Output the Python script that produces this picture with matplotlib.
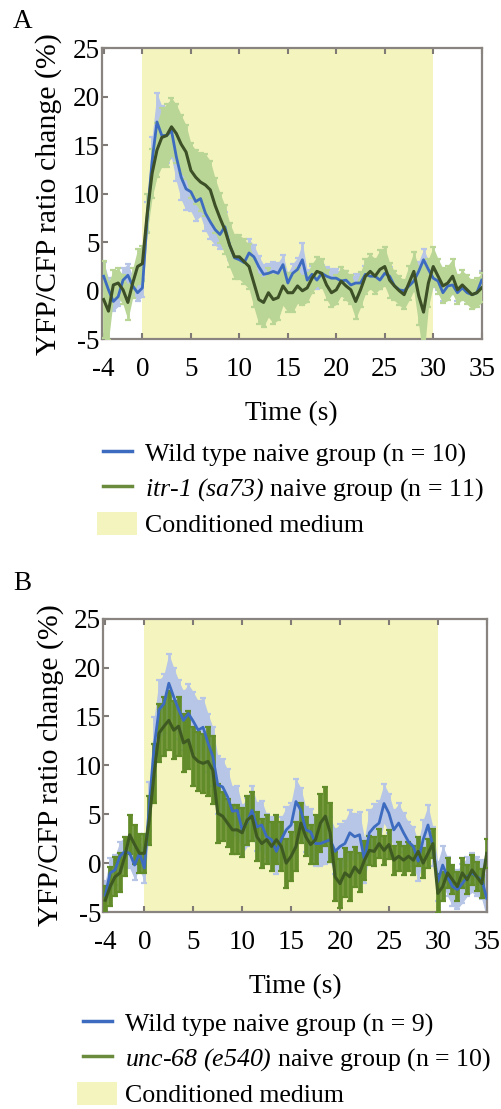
import numpy as np
import matplotlib
matplotlib.use('Agg')
import matplotlib.pyplot as plt
from matplotlib.lines import Line2D
from matplotlib.patches import Patch
from matplotlib.legend_handler import HandlerLine2D

plt.rcParams['font.family'] = ['Liberation Serif', 'DejaVu Serif']
plt.rcParams['axes.unicode_minus'] = False
# math text is only used for the italic gene names
plt.rcParams['mathtext.fontset'] = 'custom'
plt.rcParams['mathtext.rm'] = 'Liberation Serif:italic'
plt.rcParams['mathtext.it'] = 'Liberation Serif:italic'

# time axis, 0.5 s steps from -4 to 35 s
t = np.arange(-4, 35.01, 0.5)

# panel A: wild type vs itr-1 (sa73)
wt_a = [1.5, 0.1, -1.1, -0.6, 1.1, 1.6, 0.5, -0.2, 0.3, 7.6,
        13.4, 17.4, 16.0, 16.0, 16.5, 13.8, 11.7, 10.5, 10.2, 9.2,
        9.5, 8.0, 7.1, 6.3, 5.8, 6.6, 4.7, 3.4, 3.2, 2.9,
        3.9, 3.5, 2.5, 1.7, 1.8, 2.0, 1.8, 2.7, 0.8, 1.8,
        2.2, 3.2, 1.1, 1.7, 1.1, 1.8, 1.5, 1.3, 1.3, 1.0,
        1.1, 0.6, 0.8, 0.8, 1.7, 1.5, 1.5, 1.1, 1.8, 1.5,
        0.5, 0.1, 0.0, 0.5, 1.0, 2.0, 3.2, 2.2, 1.3, 1.0,
        -0.2, 0.5, 0.6, -0.2, 0.3, -0.2, -0.4, -0.2, 1.1]
wt_a_err = [1.5, 1.2, 1.0, 1.0, 1.2, 1.2, 1.0, 0.9, 0.9, 1.5,
            2.5, 3.0, 3.0, 2.8, 2.8, 2.5, 2.3, 2.2, 2.0, 2.0,
            1.8, 1.8, 1.8, 1.6, 1.5, 1.5, 1.5, 1.3, 1.3, 1.2,
            1.4, 1.2, 1.1, 1.0, 1.0, 1.0, 1.1, 1.0, 1.0, 1.0,
            1.2, 1.7, 1.0, 0.9, 0.9, 0.9, 0.9, 0.9, 0.9, 0.9,
            0.9, 0.9, 0.9, 0.9, 0.9, 0.9, 0.9, 0.9, 1.0, 1.0,
            0.9, 0.9, 0.9, 0.9, 1.0, 1.0, 1.1, 1.0, 0.9, 0.9,
            0.9, 0.9, 0.9, 0.9, 0.9, 0.9, 0.9, 0.9, 0.9]
itr = [-0.9, -2.1, 0.6, 0.8, 0.1, -1.2, 0.8, 2.5, 2.8, 8.0,
       12.1, 14.5, 15.8, 16.0, 16.9, 16.2, 15.1, 14.3, 12.4, 11.7,
       11.2, 10.9, 10.4, 8.8, 7.5, 6.3, 4.7, 3.5, 3.5, 3.0,
       2.5, 0.8, -0.9, -1.2, -0.2, -0.9, -0.7, 0.5, -0.2, -0.2,
       0.5, 0.0, 0.3, 1.3, 2.0, 1.8, 0.6, -0.2, 0.1, 1.0,
       0.5, 0.1, -1.1, 0.1, 1.5, 2.0, 1.5, 2.2, 2.5, 1.1,
       0.5, 0.0, -0.4, 0.8, 2.0, -0.5, -2.2, 0.8, 2.5, 1.5,
       0.5, 0.8, 1.5, 0.1, 0.6, 0.1, -0.4, -0.2, 0.3]
itr_err = [4.0, 3.0, 1.5, 1.5, 1.5, 1.8, 1.5, 1.8, 1.8, 2.0,
           2.5, 2.8, 3.0, 3.2, 3.0, 3.0, 3.0, 2.8, 2.8, 2.8,
           3.0, 3.2, 3.0, 2.8, 2.6, 2.5, 2.3, 2.3, 2.3, 2.3,
           2.3, 2.5, 2.5, 2.5, 2.5, 2.5, 2.3, 2.0, 2.0, 2.0,
           1.8, 1.5, 1.5, 1.5, 1.5, 1.5, 1.5, 1.5, 1.5, 1.5,
           1.5, 1.5, 1.8, 1.8, 1.8, 1.8, 1.8, 2.0, 2.0, 1.8,
           1.5, 1.5, 1.5, 1.8, 2.0, 3.0, 5.0, 2.5, 2.0, 1.8,
           1.8, 1.8, 1.8, 1.5, 1.5, 1.5, 1.5, 1.5, 1.5]

# panel B: wild type vs unc-68 (e540)
wt_b = [-3.3, -1.0, -0.7, 0.7, 1.2, 1.0, -0.2, 1.0, -0.5, 5.8,
        11.9, 15.7, 16.3, 18.4, 17.0, 15.7, 14.6, 15.3, 14.5, 13.6,
        13.9, 12.3, 10.9, 8.0, 7.8, 6.8, 5.3, 5.4, 3.4, 4.2,
        5.4, 3.7, 3.9, 2.7, 2.4, 1.2, 2.4, 3.4, 3.9, 6.3,
        5.4, 3.4, 3.2, 2.0, 2.0, 2.2, 2.4, 1.2, 1.7, 2.0,
        3.1, 2.7, 2.9, 0.3, 3.1, 3.7, 4.1, 6.1, 5.1, 3.4,
        4.1, 3.1, 2.2, 1.7, 0.2, 2.4, 3.9, 1.7, -1.9, -0.2,
        -1.4, -2.4, -2.7, -2.1, -1.4, -1.0, -1.4, -1.7, -3.6]
wt_b_err = [1.5, 1.5, 1.5, 1.5, 1.5, 1.5, 1.5, 1.5, 1.5, 2.5,
            3.0, 3.0, 3.0, 3.0, 3.0, 3.0, 3.0, 3.0, 3.0, 3.0,
            3.0, 3.0, 3.0, 3.0, 2.8, 2.8, 2.5, 2.5, 2.5, 2.5,
            2.5, 2.5, 2.5, 2.3, 2.3, 2.3, 2.3, 2.3, 2.3, 2.3,
            2.3, 2.3, 2.3, 2.3, 2.3, 2.3, 2.3, 2.3, 2.3, 2.3,
            2.3, 2.3, 2.3, 2.3, 2.3, 2.3, 2.3, 2.0, 2.0, 2.0,
            2.0, 2.0, 2.0, 2.0, 2.0, 2.0, 2.0, 2.0, 2.0, 2.0,
            2.0, 2.0, 2.0, 2.0, 2.0, 2.0, 2.0, 2.0, 2.0]
unc = [-3.8, -2.4, -1.4, -1.0, 0.7, 2.9, 1.9, 1.0, 1.0, 4.4,
       9.2, 13.3, 14.0, 14.6, 13.6, 14.0, 12.3, 12.6, 10.9, 10.4,
       10.2, 10.4, 9.5, 5.1, 4.8, 4.1, 3.4, 3.4, 3.1, 4.4,
       4.8, 2.7, 2.0, 2.4, 1.7, 2.4, 1.7, 0.0, 0.7, 1.7,
       4.1, 2.7, 1.9, 2.4, 4.1, 4.8, 3.1, -1.4, -2.1, -1.0,
       -1.4, -0.4, -1.0, 0.3, 1.3, 1.2, 2.0, 1.3, 1.9, 0.3,
       0.7, 0.3, 0.7, 0.3, 1.2, 0.0, 1.0, 2.0, -3.1, -2.4,
       -1.0, -1.7, -2.4, -1.0, -1.7, -0.7, -1.4, -2.1, 1.0]
unc_err = [1.5, 2.0, 2.0, 2.0, 2.0, 2.0, 2.0, 2.0, 2.0, 2.5,
           3.0, 3.0, 3.0, 3.0, 3.0, 3.0, 3.0, 3.0, 3.0, 3.0,
           3.0, 3.5, 3.5, 3.0, 2.5, 2.5, 2.5, 2.5, 2.5, 2.5,
           2.5, 2.5, 2.5, 2.5, 2.5, 2.5, 2.5, 2.5, 2.5, 2.5,
           2.0, 2.0, 2.0, 2.5, 3.0, 3.0, 3.0, 2.5, 2.5, 2.5,
           2.5, 2.0, 2.0, 2.0, 1.5, 1.5, 1.5, 1.5, 1.5, 1.5,
           1.5, 1.5, 1.5, 1.5, 1.5, 1.5, 1.5, 1.5, 2.0, 1.5,
           1.5, 1.5, 1.5, 1.5, 1.5, 1.5, 1.5, 1.5, 1.5]

xticks = [-4, 0, 5, 10, 15, 20, 25, 30, 35]
yticks = [-5, 0, 5, 10, 15, 20, 25]

shade = '#f4f4be'
blue = '#3d6bbf'
blue_light = '#b7c6e6'
handle_green = '#6a8a3c'

fig = plt.figure(figsize=(5.01, 11.09), dpi=100)


def band(ax, y, err, color, z, filled=True, lw=2):
    y = np.array(y)
    err = np.array(err)
    if filled:
        ax.fill_between(t, y - err, y + err, color=color, lw=0, zorder=z)
    ax.errorbar(t, y, yerr=err, fmt='none', ecolor=color, elinewidth=lw,
                capsize=2.4, capthick=1.6, zorder=z)


def panel(rect, wt, wt_err, mut, mut_err, mut_light, mut_dark, mut_fill,
          labels, leg_anchor, letter, letter_y):
    ax = fig.add_axes(rect)
    ax.axvspan(0, 30, color=shade, lw=0, zorder=0)
    band(ax, wt, wt_err, blue_light, 2)
    band(ax, mut, mut_err, mut_light, 3, filled=mut_fill, lw=2 if mut_fill else 3.4)
    ax.plot(t, wt, color=blue, lw=2, zorder=4)
    ax.plot(t, mut, color=mut_dark, lw=2.2, zorder=5)
    ax.set_xlim(-4.2, 35)
    ax.set_ylim(-5, 25)
    ax.set_xticks(xticks)
    ax.set_yticks(yticks)
    ax.tick_params(direction='in', length=4, width=1.5, color='#807a76',
                   labelsize=19.5, top=True)
    ax.tick_params(axis='x', pad=13)
    ax.tick_params(axis='y', pad=1.5)
    for s in ax.spines.values():
        s.set_color('#8a8480')
        s.set_linewidth(1.6)
    ax.set_xlabel('Time (s)', fontsize=19.7, labelpad=13.5)
    ax.set_ylabel('YFP/CFP ratio change (%)', fontsize=21.5, labelpad=7.5)
    handles = [Line2D([], [], color=blue, lw=2.5),
               Line2D([], [], color=handle_green, lw=2.5),
               Patch(facecolor=shade, edgecolor='none')]
    hl = HandlerLine2D(numpoints=2, marker_pad=0.22)
    fig.legend(handles, labels, loc='upper left', bbox_to_anchor=leg_anchor,
               frameon=False, fontsize=18.6, handlelength=1.56, handleheight=1.0,
               handletextpad=0.31, labelspacing=0.33, borderpad=0, borderaxespad=0,
               handler_map={Line2D: hl})
    fig.text(0.026, letter_y, letter, fontsize=19.5, va='center', ha='left')
    return ax


panel([101.7 / 501, 1 - 339.3 / 1109, 380 / 501, 291.1 / 1109],
      wt_a, wt_a_err, itr, itr_err, '#bad697', '#3c4f27', True,
      ['Wild type naive group (n = 10)',
       r'$\mathrm{itr}$-$\mathrm{1\ (sa73)}$ naive group (n = 11)',
       'Conditioned medium'],
      (97 / 501, 1 - 441 / 1109), 'A', 1 - 21 / 1109)

panel([103.3 / 501, 1 - 912 / 1109, 383.4 / 501, 293.3 / 1109],
      wt_b, wt_b_err, unc, unc_err, '#628b2a', '#3e5a22', False,
      ['Wild type naive group (n = 9)',
       r'$\mathrm{unc}$-$\mathrm{68\ (e540)}$ naive group (n = 10)',
       'Conditioned medium'],
      (77 / 501, 1 - 1011 / 1109), 'B', 1 - 584 / 1109)

fig.savefig('out.png', dpi=100)
